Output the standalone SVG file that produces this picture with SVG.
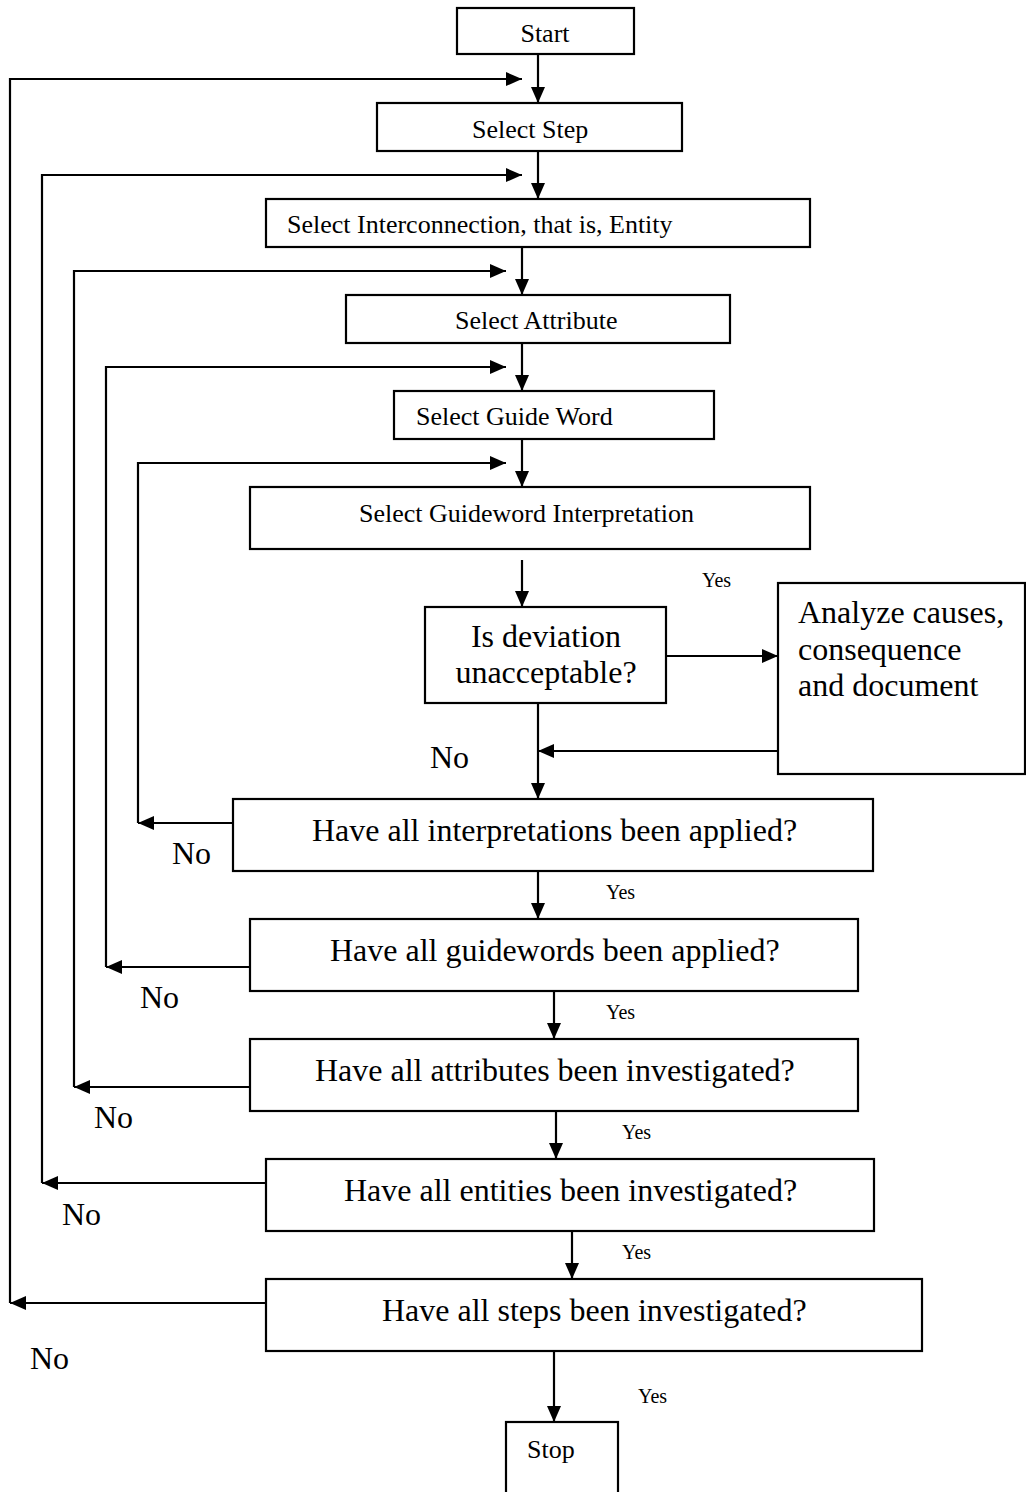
<svg xmlns="http://www.w3.org/2000/svg" width="1026" height="1492" viewBox="0 0 1026 1492">
<style>
.box{fill:#fff;stroke:#000;stroke-width:2.2}
.ln{fill:none;stroke:#000;stroke-width:2.2}
text{font-family:"Liberation Serif","Times New Roman",serif;fill:#000}
.s{font-size:26px}
.b{font-size:32px}
.y{font-size:20px}
</style>
<defs>
<marker id="ah" markerUnits="userSpaceOnUse" viewBox="0 0 16 14" markerWidth="16" markerHeight="14" refX="16" refY="7" orient="auto">
<path d="M0,0 L16,7 L0,14 z" fill="#000"/>
</marker>
</defs>
<rect width="1026" height="1492" fill="#fff"/>
<g id="connectors">
<path class="ln" d="M538,54 V103" marker-end="url(#ah)"/>
<path class="ln" d="M538,151 V199" marker-end="url(#ah)"/>
<path class="ln" d="M522,247 V295" marker-end="url(#ah)"/>
<path class="ln" d="M522,343 V391" marker-end="url(#ah)"/>
<path class="ln" d="M522,439 V487" marker-end="url(#ah)"/>
<path class="ln" d="M522,560 V607" marker-end="url(#ah)"/>
<path class="ln" d="M666,656 H778" marker-end="url(#ah)"/>
<path class="ln" d="M778,751 H538" marker-end="url(#ah)"/>
<path class="ln" d="M538,703 V799" marker-end="url(#ah)"/>
<path class="ln" d="M538,871 V919" marker-end="url(#ah)"/>
<path class="ln" d="M554,991 V1039" marker-end="url(#ah)"/>
<path class="ln" d="M556,1111 V1159" marker-end="url(#ah)"/>
<path class="ln" d="M572,1231 V1279" marker-end="url(#ah)"/>
<path class="ln" d="M554,1351 V1422" marker-end="url(#ah)"/>
<path class="ln" d="M266,1303 H10" marker-end="url(#ah)"/>
<path class="ln" d="M10,1303 V79 H522" marker-end="url(#ah)"/>
<path class="ln" d="M266,1183 H42" marker-end="url(#ah)"/>
<path class="ln" d="M42,1183 V175 H522" marker-end="url(#ah)"/>
<path class="ln" d="M250,1087 H74" marker-end="url(#ah)"/>
<path class="ln" d="M74,1087 V271 H506" marker-end="url(#ah)"/>
<path class="ln" d="M250,967 H106" marker-end="url(#ah)"/>
<path class="ln" d="M106,967 V367 H506" marker-end="url(#ah)"/>
<path class="ln" d="M233,823 H138" marker-end="url(#ah)"/>
<path class="ln" d="M138,823 V463 H506" marker-end="url(#ah)"/>
</g>
<g id="start"><rect class="box" x="457" y="8" width="177" height="46"/><text class="s" x="545" y="42" text-anchor="middle">Start</text></g>
<g id="select-step"><rect class="box" x="377" y="103" width="305" height="48"/><text class="s" x="472" y="138">Select Step</text></g>
<g id="select-entity"><rect class="box" x="266" y="199" width="544" height="48"/><text class="s" x="287" y="233">Select Interconnection, that is, Entity</text></g>
<g id="select-attribute"><rect class="box" x="346" y="295" width="384" height="48"/><text class="s" x="455" y="329">Select Attribute</text></g>
<g id="select-guide-word"><rect class="box" x="394" y="391" width="320" height="48"/><text class="s" x="416" y="425">Select Guide Word</text></g>
<g id="select-interpretation"><rect class="box" x="250" y="487" width="560" height="62"/><text class="s" x="359" y="522">Select Guideword Interpretation</text></g>
<g id="deviation"><rect class="box" x="425" y="607" width="241" height="96"/><text class="b" x="546" y="647" text-anchor="middle">Is deviation</text><text class="b" x="546" y="683" text-anchor="middle">unacceptable?</text></g>
<g id="analyze"><rect class="box" x="778" y="583" width="247" height="191"/><text class="b" x="798" y="623">Analyze causes,</text><text class="b" x="798" y="660">consequence</text><text class="b" x="798" y="696">and document</text></g>
<g id="q-interpretations"><rect class="box" x="233" y="799" width="640" height="72"/><text class="b" x="312" y="841">Have all interpretations been applied?</text></g>
<g id="q-guidewords"><rect class="box" x="250" y="919" width="608" height="72"/><text class="b" x="330" y="961">Have all guidewords been applied?</text></g>
<g id="q-attributes"><rect class="box" x="250" y="1039" width="608" height="72"/><text class="b" x="315" y="1081">Have all attributes been investigated?</text></g>
<g id="q-entities"><rect class="box" x="266" y="1159" width="608" height="72"/><text class="b" x="344" y="1201">Have all entities been investigated?</text></g>
<g id="q-steps"><rect class="box" x="266" y="1279" width="656" height="72"/><text class="b" x="382" y="1321">Have all steps been investigated?</text></g>
<g id="stop"><rect class="box" x="506" y="1422" width="112" height="80"/><text class="s" x="527" y="1458">Stop</text></g>
<g id="labels">
<text class="y" x="702" y="587">Yes</text>
<text class="b" x="430" y="768">No</text>
<text class="b" x="172" y="864">No</text>
<text class="y" x="606" y="899">Yes</text>
<text class="b" x="140" y="1008">No</text>
<text class="y" x="606" y="1019">Yes</text>
<text class="b" x="94" y="1128">No</text>
<text class="y" x="622" y="1139">Yes</text>
<text class="b" x="62" y="1225">No</text>
<text class="y" x="622" y="1259">Yes</text>
<text class="b" x="30" y="1369">No</text>
<text class="y" x="638" y="1403">Yes</text>
</g>
</svg>
